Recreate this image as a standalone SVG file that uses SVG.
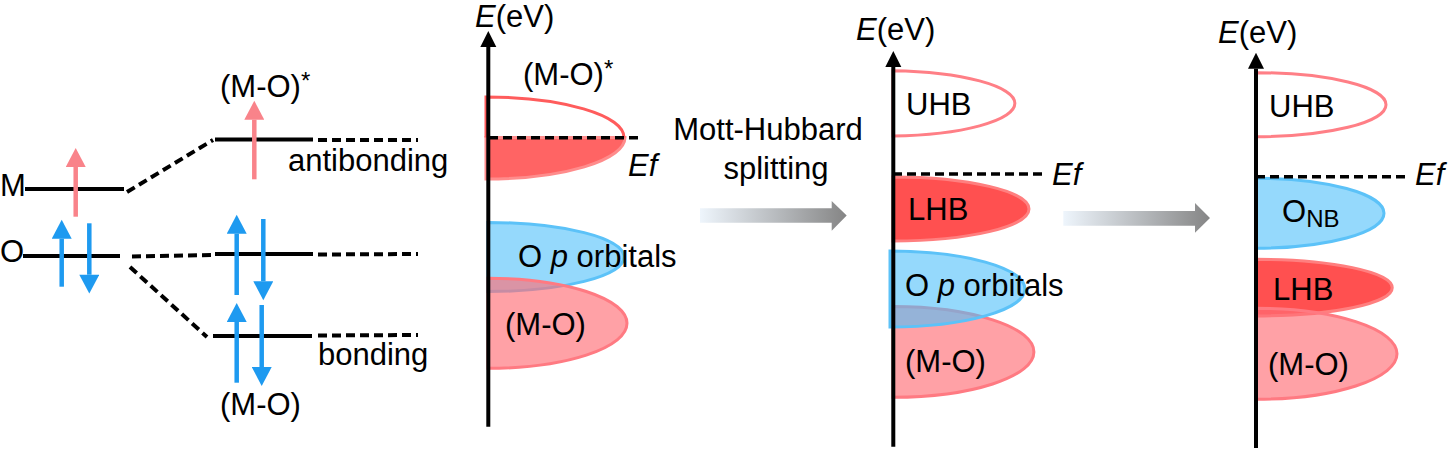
<svg xmlns="http://www.w3.org/2000/svg" width="1449" height="449" viewBox="0 0 1449 449">
<style>
text{font-family:"Liberation Sans",Arial,sans-serif;font-size:31px;fill:#000}
.it{font-style:italic}
.lvl{stroke:#000;stroke-width:4;fill:none}
.dash{stroke:#000;stroke-width:4;fill:none;stroke-dasharray:9 5}
.ef{stroke:#000;stroke-width:3.5;fill:none;stroke-dasharray:9 5}
.axis{stroke:#000;stroke-width:4;fill:none}
.red{stroke:#F9838A;stroke-width:4.5;marker-end:url(#hr)}
.blue{stroke:#1E9AF0;stroke-width:4.5;marker-end:url(#hb)}
.uhb{fill:#fff;stroke:#FF7F86;stroke-width:3}
.lhb{fill:#FF5050;stroke:#FF7F7F;stroke-width:3}
.mo{fill:#FF6E76;fill-opacity:0.65;stroke:#FF7A82;stroke-width:3}
.op{fill:#4FC0FA;fill-opacity:0.6;stroke:#5CC2F8;stroke-width:3}
.garrow{fill:url(#gg)}
</style>
<defs>
<marker id="hr" markerUnits="userSpaceOnUse" markerWidth="20" markerHeight="20" refX="0" refY="9" orient="auto" viewBox="0 0 17 18"><path d="M0,0 L17,9 L0,18 Z" fill="#F9838A"/></marker>
<marker id="hb" markerUnits="userSpaceOnUse" markerWidth="20" markerHeight="20" refX="0" refY="9" orient="auto" viewBox="0 0 17 18"><path d="M0,0 L17,9 L0,18 Z" fill="#1E9AF0"/></marker>
<marker id="ha" markerUnits="userSpaceOnUse" markerWidth="16" markerHeight="18" refX="0" refY="8" orient="auto" viewBox="0 0 16 16"><path d="M0,0 L16,8 L0,16 Z" fill="#000"/></marker>
<linearGradient id="gg" x1="0" y1="0" x2="1" y2="0"><stop offset="0" stop-color="#EEF5FC"/><stop offset="1" stop-color="#858585"/></linearGradient>
</defs>

<g id="mo-diagram">
  <g id="level-M"><line class="lvl" x1="25" y1="189" x2="124" y2="189"/><text x="0" y="196">M</text></g>
  <g id="level-O"><line class="lvl" x1="23" y1="256" x2="120" y2="256"/><text x="0" y="262">O</text></g>
  <g id="level-antibonding"><line class="lvl" x1="215" y1="139.5" x2="313" y2="139.5"/><text x="288" y="171">antibonding</text><text x="220" y="96.7">(M-O)<tspan font-size="24" dy="-8">*</tspan></text></g>
  <g id="level-nonbonding"><line class="lvl" x1="215" y1="254" x2="313" y2="254"/></g>
  <g id="level-bonding"><line class="lvl" x1="213" y1="336" x2="312" y2="336"/><text x="318" y="365">bonding</text><text x="220" y="415">(M-O)</text></g>
  <g id="spins">
    <line class="red" x1="75.7" y1="216.7" x2="75.7" y2="167"/>
    <line class="blue" x1="61.7" y1="286.7" x2="61.7" y2="238.7"/>
    <line class="blue" x1="89.3" y1="223.3" x2="89.3" y2="274.7"/>
    <line class="red" x1="254.3" y1="179.3" x2="254.3" y2="119.7"/>
    <line class="blue" x1="236.7" y1="295" x2="236.7" y2="233.7"/>
    <line class="blue" x1="263.3" y1="219" x2="263.3" y2="281.3"/>
    <line class="blue" x1="236.7" y1="382.7" x2="236.7" y2="322"/>
    <line class="blue" x1="261.7" y1="305" x2="261.7" y2="367"/>
  </g>
</g>

<g id="panel-1">
  <g id="p1-mo"><path class="op" d="M488,222.5 A136 34.5 0 0 1 488,291.5 Z"/><path class="mo" d="M488,278.3 A139 45 0 0 1 488,368.3 Z"/></g>
  <g id="p1-antibonding">
    <path d="M486,137.5 L625,137.5 A139 41.5 0 0 1 486,179 Z" fill="#FF6464" stroke="#FF8C8C" stroke-width="3"/>
    <path d="M486,137.5 L486,97 A138 40.5 0 0 1 624,137.5" fill="none" stroke="#FF5C5C" stroke-width="3"/>
  </g>
  <line class="ef" x1="489" y1="137.7" x2="640" y2="137.7"/>
  <line class="axis" x1="488.3" y1="426.7" x2="488.3" y2="47" marker-end="url(#ha)"/>
  <text x="475" y="27"><tspan class="it">E</tspan>(eV)</text>
  <text x="523" y="85">(M-O)<tspan font-size="24" dy="-8">*</tspan></text>
  <text class="it" x="628" y="176">Ef</text>
  <text x="518" y="266.7">O <tspan class="it">p</tspan> orbitals</text>
  <text x="505" y="335">(M-O)</text>
</g>

<g id="panel-2">
  <path class="uhb" d="M893,70.7 A129 32.7 0 0 1 893,136 Z"/>
  <path class="lhb" d="M893,177 A136 32 0 0 1 893,241 Z"/>
  <path class="mo" d="M893,306.5 A141 45.4 0 0 1 893,397.3 Z"/>
  <path class="op" d="M890,251 A135 38 0 0 1 890,327 Z"/>
  <line class="ef" x1="893" y1="174" x2="1043.3" y2="174"/>
  <line class="axis" x1="893.3" y1="446.7" x2="893.3" y2="67" marker-end="url(#ha)"/>
  <text x="856" y="39.5"><tspan class="it">E</tspan>(eV)</text>
  <text x="906" y="115">UHB</text>
  <text x="908" y="220">LHB</text>
  <text x="905" y="296">O <tspan class="it">p</tspan> orbitals</text>
  <text x="905" y="371.7">(M-O)</text>
  <text class="it" x="1052" y="185">Ef</text>
</g>

<g id="panel-3">
  <path class="uhb" d="M1256,72.7 A130 32 0 0 1 1256,136.7 Z"/>
  <path class="op" d="M1256,178.3 A128 35 0 0 1 1256,248.3 Z"/>
  <path class="lhb" d="M1256,259.3 A136 28.3 0 0 1 1256,316 Z"/>
  <path class="mo" d="M1256,308.3 A141 45.5 0 0 1 1256,399.3 Z"/>
  <line class="ef" x1="1256" y1="176.7" x2="1405" y2="176.7"/>
  <line class="axis" x1="1256" y1="448" x2="1256" y2="68.7" marker-end="url(#ha)"/>
  <text x="1218" y="42.7"><tspan class="it">E</tspan>(eV)</text>
  <text x="1269" y="116.7">UHB</text>
  <text x="1282" y="221.7">O<tspan font-size="24" dy="5">NB</tspan></text>
  <text x="1273" y="300">LHB</text>
  <text x="1268" y="375">(M-O)</text>
  <text class="it" x="1415" y="185">Ef</text>
</g>

<g id="connectors">
  <line class="dash" x1="127" y1="192" x2="213" y2="140"/>
  <line class="dash" x1="132" y1="256.5" x2="213" y2="255"/>
  <line class="dash" x1="130" y1="267" x2="207" y2="337"/>
  <line class="dash" x1="318" y1="140" x2="418" y2="140"/>
  <line class="dash" x1="318" y1="254.5" x2="418" y2="254"/>
  <line class="dash" x1="318" y1="335.5" x2="418" y2="335"/>
  <path class="garrow" d="M700,208.3 L831.7,208.3 L831.7,201 L846.7,215.5 L831.7,230.7 L831.7,222.7 L700,222.7 Z"/>
  <path class="garrow" d="M1063.3,211 L1195,211 L1195,203 L1210,218 L1195,232.7 L1195,225.7 L1063.3,225.7 Z"/>
  <text x="768" y="139.5" text-anchor="middle">Mott-Hubbard</text>
  <text x="776" y="179" text-anchor="middle">splitting</text>
</g>
</svg>
